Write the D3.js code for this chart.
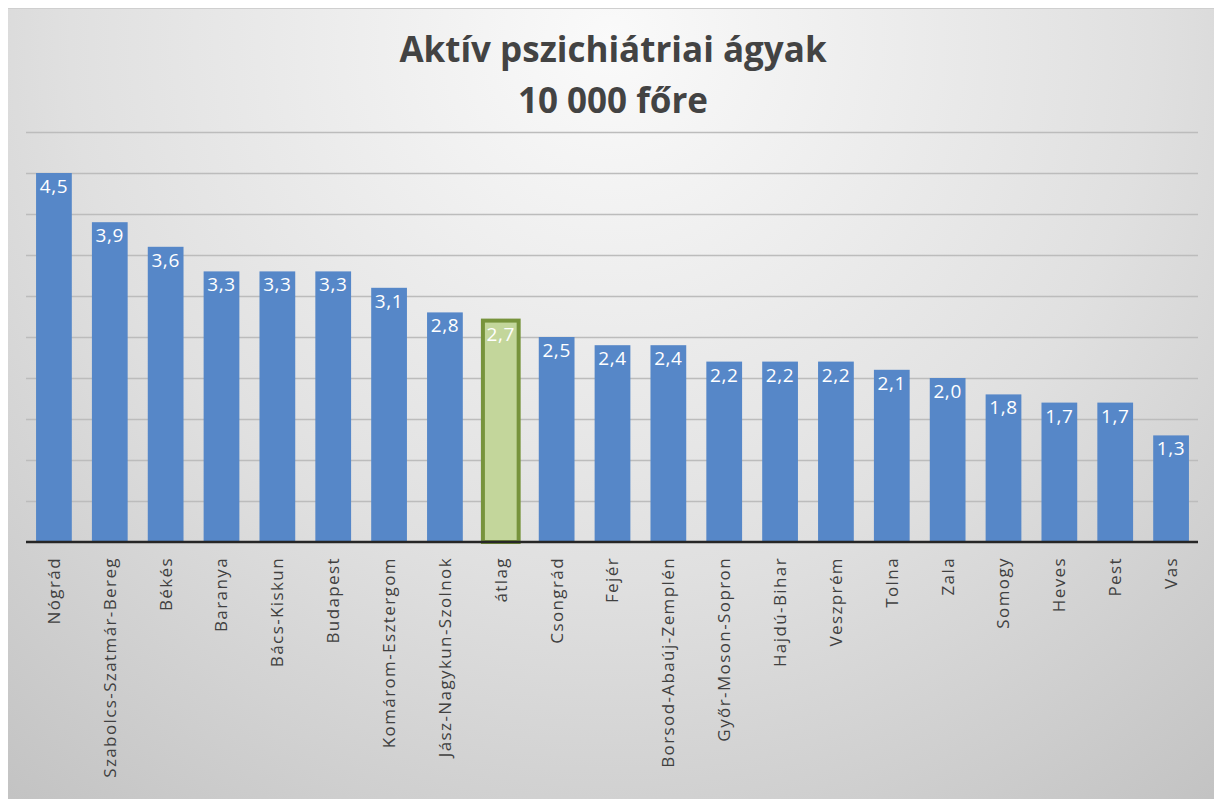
<!DOCTYPE html>
<html>
<head>
<meta charset="utf-8">
<script src="https://cdn.jsdelivr.net/npm/d3@7"></script>
<style>
  html, body { margin: 0; padding: 0; background: #ffffff; }
  svg { display: block; }
</style>
</head>
<body>
<svg id="chart" width="1214" height="799"></svg>
<script>
// Active psychiatric beds per 10 000 inhabitants, by county (plus the national average)
const counties = [
  "Nógrád", "Szabolcs-Szatmár-Bereg", "Békés", "Baranya", "Bács-Kiskun",
  "Budapest", "Komárom-Esztergom", "Jász-Nagykun-Szolnok", "átlag", "Csongrád",
  "Fejér", "Borsod-Abaúj-Zemplén", "Győr-Moson-Sopron", "Hajdú-Bihar", "Veszprém",
  "Tolna", "Zala", "Somogy", "Heves", "Pest", "Vas"
];
const beds = [
  4.5, 3.9, 3.6, 3.3, 3.3,
  3.3, 3.1, 2.8, 2.7, 2.5,
  2.4, 2.4, 2.2, 2.2, 2.2,
  2.1, 2.0, 1.8, 1.7, 1.7, 1.3
];
const averageLabel = "átlag";
const gridTicks = [0.5, 1, 1.5, 2, 2.5, 3, 3.5, 4, 4.5, 5];
const titleLines = ["Aktív pszichiátriai ágyak", "10 000 főre"];

const data = counties.map((c, i) => ({ name: c, value: beds[i] }));

const svg = d3.select("#chart");
const W = 1214, H = 799;

// chart area background: soft radial grey gradient
const defs = svg.append("defs");
const grad = defs.append("radialGradient")
  .attr("id", "bg")
  .attr("gradientUnits", "userSpaceOnUse")
  .attr("cx", 610).attr("cy", 40).attr("r", 980);
grad.append("stop").attr("offset", 0).attr("stop-color", "#fafafa");
grad.append("stop").attr("offset", 0.55).attr("stop-color", "#e0e0e0");
grad.append("stop").attr("offset", 1).attr("stop-color", "#c2c2c2");

svg.append("rect")
  .attr("x", 8).attr("y", 8).attr("width", W - 8).attr("height", H - 8)
  .attr("fill", "url(#bg)");
svg.append("line")
  .attr("x1", 8).attr("x2", W).attr("y1", 8.5).attr("y2", 8.5)
  .attr("stroke", "#cfcfcf").attr("stroke-width", 1);

// scales
const x = d3.scaleBand()
  .domain(counties)
  .range([26, 1199])
  .paddingInner(0.36)
  .paddingOuter(0.18);
const y = d3.scaleLinear().domain([0, 5]).range([542, 132]);

// horizontal gridlines
const grid = svg.append("g")
  .call(d3.axisLeft(y).tickValues(gridTicks).tickSize(-(1198 - 26)).tickFormat(""))
  .attr("transform", "translate(26,0)");
grid.select(".domain").remove();
grid.selectAll(".tick line")
  .attr("stroke", "#bcbcbc")
  .attr("stroke-width", 1.5);

// bars
svg.append("g").selectAll("rect")
  .data(data)
  .join("rect")
  .attr("x", d => x(d.name))
  .attr("y", d => y(d.value))
  .attr("width", x.bandwidth())
  .attr("height", d => y(0) - y(d.value))
  .attr("fill", d => d.name === averageLabel ? "#c3d69b" : "#5687c8")
  .attr("stroke", d => d.name === averageLabel ? "#77933c" : "none")
  .attr("stroke-width", d => d.name === averageLabel ? 4 : 0);

// value labels inside bar tops (decimal comma)
const fmt = v => d3.format(".1f")(v).replace(".", ",");
svg.append("g").selectAll("text")
  .data(data)
  .join("text")
  .attr("x", d => x(d.name) + x.bandwidth() / 2)
  .attr("y", d => y(d.value) + 20)
  .attr("text-anchor", "middle")
  .attr("font-family", "'Open Sans', sans-serif")
  .attr("font-size", 19)
  .attr("letter-spacing", 0.6)
  .attr("fill", "#ffffff")
  .text(d => fmt(d.value));

// category axis
const xAxis = svg.append("g")
  .attr("transform", "translate(0,542)")
  .call(d3.axisBottom(x).tickSize(0).tickPadding(0));
xAxis.select(".domain")
  .attr("d", "M26,0H1198")
  .attr("stroke", "#262626")
  .attr("stroke-width", 2.5);
xAxis.selectAll(".tick text")
  .attr("transform", "rotate(-90)")
  .attr("x", -15)
  .attr("y", 0)
  .attr("dy", "0.35em")
  .attr("text-anchor", "end")
  .attr("font-family", "'Open Sans', sans-serif")
  .attr("font-size", 17)
  .attr("letter-spacing", 1.4)
  .attr("fill", "#404040");

// title
svg.append("g").selectAll("text")
  .data(titleLines)
  .join("text")
  .attr("x", 613)
  .attr("y", (d, i) => 62 + i * 51)
  .attr("text-anchor", "middle")
  .attr("font-family", "'Open Sans', sans-serif")
  .attr("font-weight", "bold")
  .attr("font-size", 35)
  .attr("fill", "#434343")
  .text(d => d);
</script>
</body>
</html>
